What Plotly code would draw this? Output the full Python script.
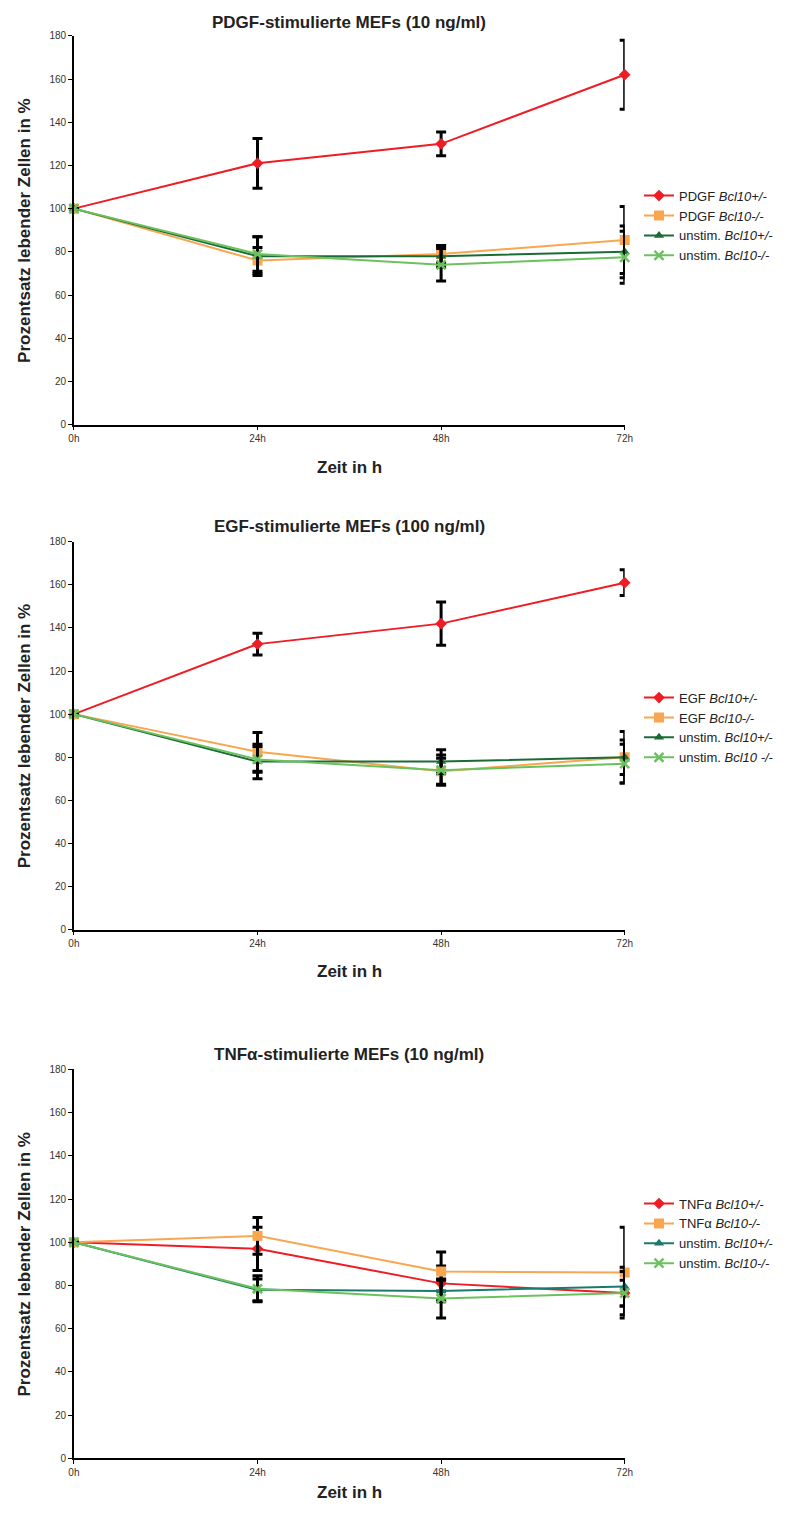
import plotly.graph_objects as go

# page body has an 8px default margin; size the figure to fit inside it
OFF = 8
W, H = 787 - 2 * OFF, 1517 - 2 * OFF

hours = [0, 24, 48, 72]
tick_labels = ["0h", "24h", "48h", "72h"]

titles = ["PDGF-stimulierte MEFs (10 ng/ml)",
          "EGF-stimulierte MEFs (100 ng/ml)",
          "TNFα-stimulierte MEFs (10 ng/ml)"]

# Panel 1: PDGF
pdgf_het = [100, 121, 130, 162]
pdgf_het_err = [0, 11.5, 5.5, 16]
pdgf_ko = [100, 76, 79, 85.5]
pdgf_ko_err = [0, 6, 4, 15.5]
p1_unst_het = [100, 78, 78, 80]
p1_unst_het_err = [0, 9, 5, 12]
p1_unst_ko = [100, 79, 74, 77.5]
p1_unst_ko_err = [0, 8, 7.5, 12]

# Panel 2: EGF
egf_het = [100, 132.5, 142, 161]
egf_het_err = [0, 5, 10, 6]
egf_ko = [100, 82.5, 73.5, 80]
egf_ko_err = [0, 9, 6, 12]
p2_unst_het = [100, 78, 78, 80]
p2_unst_het_err = [0, 8, 5.5, 8]
p2_unst_ko = [100, 79, 74, 77]
p2_unst_ko_err = [0, 6, 7, 9]

# Panel 3: TNFa
tnf_het = [100, 97, 81, 76.5]
tnf_het_err = [0, 10, 8, 6]
tnf_ko = [100, 103, 86.5, 86]
tnf_ko_err = [0, 8.5, 9, 21]
p3_unst_het = [100, 78, 77.5, 79.5]
p3_unst_het_err = [0, 5, 5, 9]
p3_unst_ko = [100, 78.5, 74, 76.5]
p3_unst_ko_err = [0, 6, 9, 10]

legend_names = [
    ["PDGF <i>Bcl10+/-</i>", "PDGF <i>Bcl10-/-</i>", "unstim. <i>Bcl10+/-</i>", "unstim. <i>Bcl10-/-</i>"],
    ["EGF <i>Bcl10+/-</i>", "EGF <i>Bcl10-/-</i>", "unstim. <i>Bcl10+/-</i>", "unstim. <i>Bcl10 -/-</i>"],
    ["TNFα <i>Bcl10+/-</i>", "TNFα <i>Bcl10-/-</i>", "unstim. <i>Bcl10+/-</i>", "unstim. <i>Bcl10-/-</i>"],
]

panels = [
    [(pdgf_het, pdgf_het_err), (pdgf_ko, pdgf_ko_err), (p1_unst_het, p1_unst_het_err), (p1_unst_ko, p1_unst_ko_err)],
    [(egf_het, egf_het_err), (egf_ko, egf_ko_err), (p2_unst_het, p2_unst_het_err), (p2_unst_ko, p2_unst_ko_err)],
    [(tnf_het, tnf_het_err), (tnf_ko, tnf_ko_err), (p3_unst_het, p3_unst_het_err), (p3_unst_ko, p3_unst_ko_err)],
]

RED = "#EE1D25"
ORANGE = "#F8A650"
DGREEN = "#1B6B36"
LGREEN = "#6CC15F"
TEAL = "#1C7A6C"

styles = [
    [(RED, "diamond", 9), (ORANGE, "square", 10), (DGREEN, "triangle-up", 9), (LGREEN, "x-thin-open", 9)],
    [(RED, "diamond", 9), (ORANGE, "square", 10), (DGREEN, "triangle-up", 9), (LGREEN, "x-thin-open", 9)],
    [(RED, "diamond", 9), (ORANGE, "square", 10), (TEAL, "triangle-up", 9), (LGREEN, "x-thin-open", 9)],
]

# target positions in page pixels
X0, X1 = 70, 640
panel_px = [(30, 422), (540, 931), (1072, 1464)]
title_px = [17, 525, 1057]
xtitle_px = [465, 973, 1498]
legend_center_px = [222, 728, 1238]
LEGEND_X = 655
YTITLE_X = 19


def px(x):
    return (x - OFF) / W


def py(y):
    return (H - (y - OFF)) / H


FONT = "Liberation Sans, Arial, sans-serif"
LEG_FS = 13

fig = go.Figure()
layout_axes = {}
annotations = []
legends = {}

for p in range(3):
    xa = "xaxis" if p == 0 else f"xaxis{p+1}"
    ya = "yaxis" if p == 0 else f"yaxis{p+1}"
    xref = "x" if p == 0 else f"x{p+1}"
    yref = "y" if p == 0 else f"y{p+1}"
    lg = "legend" if p == 0 else f"legend{p+1}"
    top, bot = panel_px[p]
    for i, (vals, errs) in enumerate(panels[p]):
        color, sym, size = styles[p][i]
        marker = dict(symbol=sym, size=size, color=color)
        if sym.startswith("x-thin"):
            marker["line"] = dict(color=color, width=2.5)
        fig.add_trace(go.Scatter(
            x=hours, y=vals, mode="lines+markers",
            name=legend_names[p][i],
            line=dict(color=color, width=2),
            marker=marker,
            error_y=dict(type="data", array=errs, visible=True, color="black",
                         thickness=3, width=5),
            xaxis=xref, yaxis=yref, legend=lg, cliponaxis=False,
        ))
    layout_axes[xa] = dict(
        domain=[px(X0), px(X1)], range=[0, 72], anchor=yref,
        tickmode="array", tickvals=hours, ticktext=tick_labels,
        showline=True, linecolor="black", linewidth=1.5,
        ticks="outside", ticklen=4, tickcolor="black",
        showgrid=False, zeroline=False,
        tickfont=dict(family=FONT, size=10, color="#333"),
    )
    layout_axes[ya] = dict(
        domain=[py(bot), py(top)], range=[0, 180], anchor=xref,
        tickmode="linear", tick0=0, dtick=20,
        showline=True, linecolor="black", linewidth=1.5,
        ticks="outside", ticklen=4, tickcolor="black",
        showgrid=False, zeroline=False,
        tickfont=dict(family=FONT, size=10, color="#333"),
    )
    annotations.append(dict(
        text=f"<b>{titles[p]}</b>", x=px((X0 + X1) / 2), y=py(title_px[p]),
        xref="paper", yref="paper", showarrow=False, xanchor="center", yanchor="middle",
        font=dict(family=FONT, size=17, color="#222")))
    annotations.append(dict(
        text="<b>Zeit in h</b>", x=px((X0 + X1) / 2), y=py(xtitle_px[p]),
        xref="paper", yref="paper", showarrow=False, xanchor="center", yanchor="middle",
        font=dict(family=FONT, size=17, color="#222")))
    annotations.append(dict(
        text="<b>Prozentsatz lebender Zellen in %</b>", x=px(YTITLE_X), y=py((top + bot) / 2),
        xref="paper", yref="paper", showarrow=False, xanchor="center", yanchor="middle",
        textangle=-90, font=dict(family=FONT, size=17, color="#222")))
    legends[lg] = dict(
        x=px(LEGEND_X), y=py(legend_center_px[p] - 46),
        xanchor="left", yanchor="top",
        bgcolor="rgba(0,0,0,0)", font=dict(family=FONT, size=LEG_FS, color="#222"),
        tracegroupgap=0, itemwidth=30,
    )

fig.update_layout(
    width=W, height=H,
    margin=dict(l=0, r=0, t=0, b=0),
    paper_bgcolor="white", plot_bgcolor="white",
    showlegend=True,
    annotations=annotations,
    **layout_axes,
    **legends,
)

fig.write_html("out.html")
